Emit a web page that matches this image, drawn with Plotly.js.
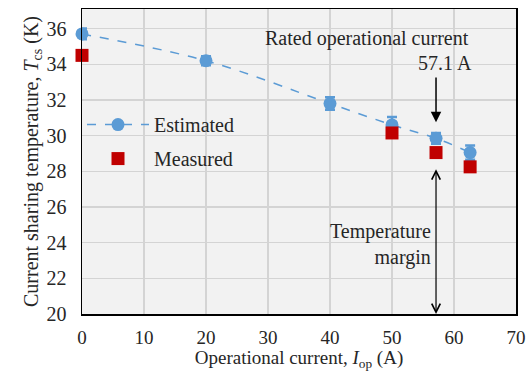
<!DOCTYPE html>
<html><head><meta charset="utf-8">
<script src="https://cdn.plot.ly/plotly-3.0.1.min.js"></script>
<style>html,body{margin:0;padding:0;background:#fff}</style>
</head><body>
<div id="chart" style="width:529px;height:371px"></div>
<script>
const estX = [0, 20, 40, 50, 57.1, 62.6];
const estY = [35.7, 34.2, 31.8, 30.6, 29.85, 29.05];
const estErr = [0.3, 0.25, 0.35, 0.45, 0.3, 0.4];
const measX = [0, 50, 57.1, 62.6];
const measY = [34.5, 30.15, 29.05, 28.25];
const xTicks = [0, 10, 20, 30, 40, 50, 60, 70];
const yTicks = [20, 22, 24, 26, 28, 30, 32, 34, 36];
const ratedCurrent = 57.1;

const font = "'Liberation Serif', 'Times New Roman', serif";
const fs = 20;
const tc = "#262626";
const traces = [
  {x: estX, y: estY, name: "Estimated", legendgroup: "a", mode: "lines+markers", type: "scatter", cliponaxis: false,
   line: {color: "#5b9bd5", dash: "dash", width: 1.5, shape: "spline"},
   marker: {color: "#5b9bd5", size: 13, symbol: "circle"},
   error_y: {type: "data", array: estErr, visible: true, color: "#5b9bd5", thickness: 2.5, width: 5}},
  {x: measX, y: measY, name: "Measured", legendgroup: "b", mode: "markers", type: "scatter", cliponaxis: false,
   marker: {color: "#c00000", size: 13, symbol: "square"}}
];
const layout = {
  width: 529, height: 371,
  margin: {l: 82, r: 13, t: 9, b: 57},
  paper_bgcolor: "#ffffff", plot_bgcolor: "#f2f2f2",
  font: {family: font, size: fs, color: tc},
  showlegend: true,
  legend: {x: 0.0, y: 0.685, xanchor: "left", yanchor: "top", bgcolor: "rgba(0,0,0,0)",
           font: {family: font, size: fs, color: tc}, itemwidth: 62, tracegroupgap: 5},
  xaxis: {range: [0, 70], tickvals: xTicks, ticks: "outside", ticklen: 6, tickcolor: "rgba(0,0,0,0)",
          showgrid: true, gridcolor: "#d4d4d4", gridwidth: 1.5,
          showline: true, linecolor: "#000", linewidth: 1.5, mirror: true, zeroline: false,
          tickfont: {family: font, size: 19, color: tc},
          title: {text: "Operational current, <i>I</i><sub>op</sub> (A)", standoff: 0, font: {family: font, size: 19, color: tc}}},
  yaxis: {range: [20, 37.1], tickvals: yTicks, ticks: "outside", ticklen: 10, tickcolor: "rgba(0,0,0,0)",
          showgrid: true, gridcolor: "#d4d4d4", gridwidth: 1.5,
          showline: true, linecolor: "#000", linewidth: 1.5, mirror: true, zeroline: false,
          tickfont: {family: font, size: fs, color: tc},
          title: {text: "Current sharing temperature, <i>T</i><sub>cs</sub> (K)", standoff: 2, font: {family: font, size: fs, color: tc}}},
  annotations: [
    {x: 46, y: 35.45, xref: "x", yref: "y", text: "Rated operational current", showarrow: false,
     font: {family: font, size: fs, color: tc}},
    {x: 58.5, y: 34.05, xref: "x", yref: "y", text: "57.1 A", showarrow: false,
     font: {family: font, size: fs, color: tc}},
    {x: ratedCurrent, y: 30.75, ax: ratedCurrent, ay: 33.35, xref: "x", yref: "y", axref: "x", ayref: "y",
     text: "", showarrow: true, arrowhead: 2, arrowsize: 1.4, arrowwidth: 1.5, arrowcolor: "#000"},
    {x: ratedCurrent, y: 20, ax: ratedCurrent, ay: 28.2, xref: "x", yref: "y", axref: "x", ayref: "y",
     text: "", showarrow: true, arrowhead: 5, startarrowhead: 5, arrowside: "end+start", arrowsize: 1.4, startarrowsize: 1.4,
     arrowwidth: 1.2, arrowcolor: "#000"},
    {x: 56.6, y: 23.9, xref: "x", yref: "y", xanchor: "right", align: "right",
     text: "Temperature<br>margin", showarrow: false,
     font: {family: font, size: fs, color: tc}}
  ]
};
Plotly.newPlot("chart", traces, layout, {displayModeBar: false, staticPlot: true});
</script>
</body></html>
